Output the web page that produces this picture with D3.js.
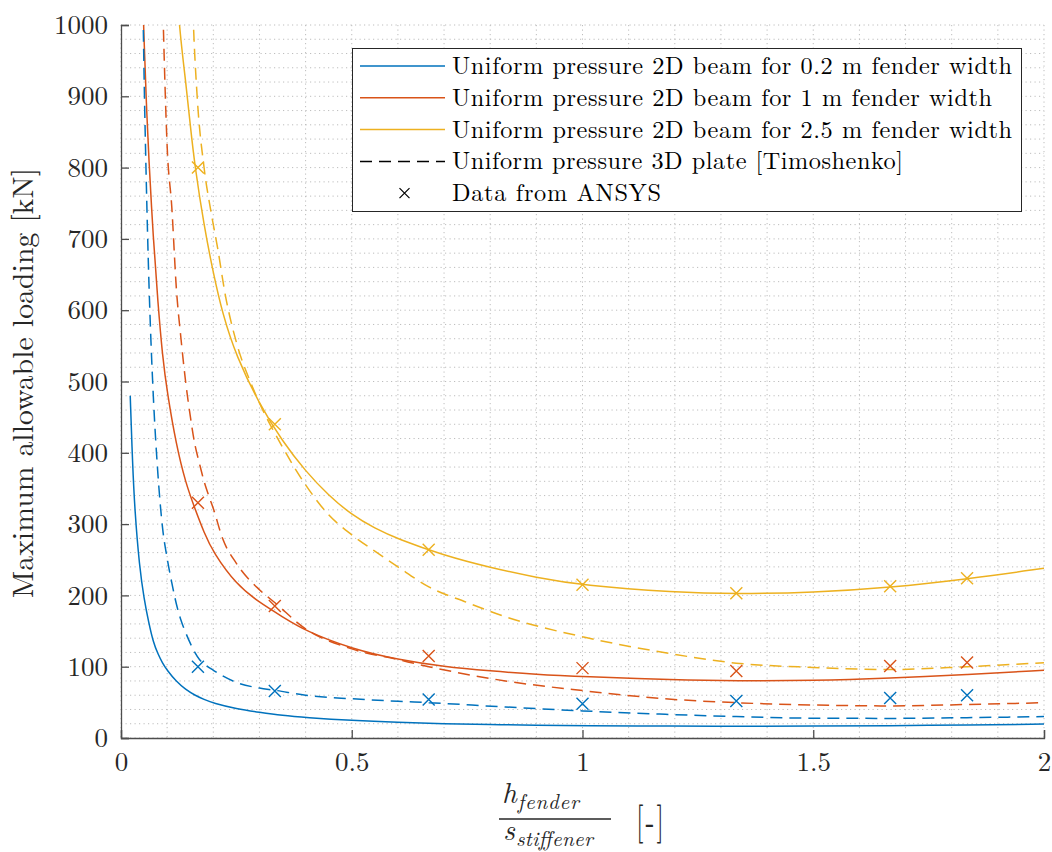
<!DOCTYPE html>
<html>
<head>
<meta charset="utf-8">
<script src="https://cdn.jsdelivr.net/npm/d3@7"></script>
<style>
body{margin:0;background:#fff;}
svg{display:block;}
</style>
</head>
<body>
<svg id="chart"></svg>
<script>
//2D beam (solid) curves, one x list each
var xBeam02=[0.02,0.025,0.03,0.04,0.05,0.06,0.07,0.08,0.09,0.1,0.12,0.14,0.16,0.18,0.2,0.25,0.3,0.35,0.4,0.5,0.6,0.7,0.8,0.9,1.0,1.2,1.333,1.5,1.667,1.833,2.0];
var yBeam02=[480,385,318,240,195,162,134,118,105,95,79,68,60,54,49,41,36,31.5,28.8,24.5,21.8,20,18.8,18,17.3,16.6,16.4,16.6,17.2,18.2,19.5];

var xBeam1=[0.045,0.05,0.055,0.06,0.07,0.08,0.09,0.1,0.12,0.14,0.16,0.18,0.2,0.25,0.3,0.35,0.4,0.5,0.6,0.7,0.8,0.9,1.0,1.2,1.333,1.5,1.667,1.833,2.0];
var yBeam1=[1090,975,890,815,700,610,535,485,410,358,322,288,260,215,190,170,150,125,110,100,94,89,86,81.5,80,80.5,84,89,95];

var xBeam25=[0.12,0.13,0.14,0.15,0.16,0.18,0.2,0.22,0.25,0.3,0.35,0.4,0.45,0.5,0.55,0.6,0.7,0.8,0.9,1.0,1.2,1.333,1.5,1.667,1.833,2.0];
var yBeam25=[1050,975,922,860,802,718,652,595,535,468,416,374,340,313,294,279,256,239,225,214,204,202,204,211,223,238];

//3D plate [Timoshenko] (dashed) curves
var xPlate02=[0.046,0.048,0.05,0.055,0.06,0.065,0.07,0.08,0.09,0.1,0.11,0.12,0.13,0.14,0.15,0.16,0.17,0.18,0.2,0.25,0.3,0.333,0.4,0.5,0.6,0.667,0.833,1.0,1.167,1.333,1.5,1.667,1.833,2.0];
var yPlate02=[1100,1010,930,775,650,555,480,370,295,252,218,188,165,148,133,120,110,104,95,78,70,67,60,55,51.5,49.5,43.5,38,33.5,30,27.8,27.5,28.5,30];

var xPlate1=[0.088,0.0917,0.1,0.11,0.12,0.13,0.14,0.15,0.16,0.17,0.18,0.19,0.2,0.22,0.25,0.3,0.333,0.4,0.5,0.6,0.667,0.833,1.0,1.167,1.333,1.5,1.667,1.833,2.0];
var yPlate1=[1100,1000,830,745,630,560,500,452,412,385,360,340,322,280,245,208,190,153,125,110,100,80,66.5,55.6,49.5,46.3,45,47,49.5];

var xPlate25=[0.152,0.157,0.165,0.18,0.195,0.21,0.225,0.25,0.28,0.3,0.35,0.4,0.45,0.5,0.55,0.6,0.667,0.75,0.833,1.0,1.167,1.333,1.5,1.667,1.833,2.0];
var yPlate25=[1100,1000,900,800,738,685,625,555,500,470,408,355,313,285,262,240,212,190,170,142,121,105,99,96,100,105.6];

//ANSYS points
var xAnsys=[0.1667,0.3333,0.6667,1.0,1.3333,1.6667,1.8333];
var yAnsys02=[100,66,54,48,52,56,60];
var yAnsys1=[330,185,115,98,94,101,106];
var yAnsys25=[800,440,264,215,203,213,224];

var xTicks=[0,0.5,1,1.5,2];
var yTicks=[0,100,200,300,400,500,600,700,800,900,1000];

var legendLabels=[
	"Uniform pressure 2D beam for 0.2 m fender width",
	"Uniform pressure 2D beam for 1 m fender width",
	"Uniform pressure 2D beam for 2.5 m fender width",
	"Uniform pressure 3D plate [Timoshenko]",
	"Data from ANSYS"
];
var legendWidths=[560,540,560,451,209];

///some constants
var colBlue="#0072BD", colOrange="#D95319", colYellow="#EDB120";
var axisColor="#4d4d4d", textColor="#262626";
var serif="'Latin Modern Roman','Liberation Serif',serif";
var margin={top:25,right:8,bottom:114,left:121};
var W=1052, H=852;
var width=W-margin.left-margin.right;
var height=H-margin.top-margin.bottom;

var svg=d3.select("#chart").attr("width",W).attr("height",H);

var x=d3.scaleLinear().domain([0,2]).range([0,width]);
var y=d3.scaleLinear().domain([0,1000]).range([height,0]);

var plot=svg.append("g").attr("transform","translate("+margin.left+","+margin.top+")");

plot.append("clipPath").attr("id","clip")
	.append("rect").attr("x",0).attr("y",0).attr("width",width).attr("height",height);

//dotted grid, major + minor
plot.append("g").selectAll("line")
	.data(d3.range(0,2.0001,0.1))
	.enter().append("line")
	.attr("x1",function(d){return x(d);}).attr("x2",function(d){return x(d);})
	.attr("y1",0).attr("y2",height)
	.attr("stroke","#bdbdbd").attr("stroke-width",1)
	.attr("stroke-dasharray","1.2,3.3");
plot.append("g").selectAll("line")
	.data(d3.range(0,1000.1,20))
	.enter().append("line")
	.attr("y1",function(d){return y(d);}).attr("y2",function(d){return y(d);})
	.attr("x1",0).attr("x2",width)
	.attr("stroke","#bdbdbd").attr("stroke-width",1)
	.attr("stroke-dasharray","1.2,3.3");

//axes, ticks pointing inward
var xAxis=d3.axisBottom(x).tickValues(xTicks).tickSize(-8).tickPadding(14)
	.tickFormat(function(d){return d;});
var yAxis=d3.axisLeft(y).tickValues(yTicks).tickSize(-8).tickPadding(13)
	.tickFormat(function(d){return d;});

var gx=plot.append("g").attr("transform","translate(0,"+height+")").call(xAxis);
var gy=plot.append("g").call(yAxis);
[gx,gy].forEach(function(g){
	g.attr("font-family",null).attr("font-size",null);
	g.select(".domain").attr("stroke",axisColor).attr("stroke-width",1.3);
	g.selectAll(".tick line").attr("stroke",axisColor).attr("stroke-width",1.3);
	g.selectAll(".tick text").attr("fill",textColor)
		.style("font-family",serif).style("font-size","27px");
});
gx.selectAll(".tick text").attr("dy","0.71em");
gy.selectAll(".tick text").attr("dy","0.32em");

//curves: smooth beam solutions, plate values joined as read
var smooth=d3.line()
	.x(function(d){return x(d[0]);})
	.y(function(d){return y(d[1]);})
	.curve(d3.curveBasis);
var mono=d3.line()
	.x(function(d){return x(d[0]);})
	.y(function(d){return y(d[1]);})
	.curve(d3.curveMonotoneX);
var curves=[
	{xs:xBeam02,ys:yBeam02,color:colBlue,dash:null,gen:smooth},
	{xs:xBeam1,ys:yBeam1,color:colOrange,dash:null,gen:smooth},
	{xs:xBeam25,ys:yBeam25,color:colYellow,dash:null,gen:smooth},
	{xs:xPlate02,ys:yPlate02,color:colBlue,dash:"12,7",gen:mono},
	{xs:xPlate1,ys:yPlate1,color:colOrange,dash:"12,7",gen:mono},
	{xs:xPlate25,ys:yPlate25,color:colYellow,dash:"12,7",gen:mono}
];

var gLines=plot.append("g").attr("clip-path","url(#clip)");
curves.forEach(function(c){
	var pts=c.xs.map(function(v,i){return [v,c.ys[i]];});
	gLines.append("path")
		.datum(pts)
		.attr("d",c.gen)
		.attr("fill","none")
		.attr("stroke",c.color)
		.attr("stroke-width",1.5)
		.attr("stroke-dasharray",c.dash);
});

//ANSYS crosses
var markerSets=[
	{ys:yAnsys02,color:colBlue},
	{ys:yAnsys1,color:colOrange},
	{ys:yAnsys25,color:colYellow}
];
var s=6;
function cross(d){
	var cx=x(d[0]), cy=y(d[1]);
	return "M"+(cx-s)+","+(cy-s)+"L"+(cx+s)+","+(cy+s)+"M"+(cx-s)+","+(cy+s)+"L"+(cx+s)+","+(cy-s);
}
markerSets.forEach(function(m){
	gLines.append("g").selectAll("path")
		.data(xAnsys.map(function(v,i){return [v,m.ys[i]];}))
		.enter().append("path")
		.attr("d",cross)
		.attr("stroke",m.color)
		.attr("stroke-width",1.4)
		.attr("fill","none");
});

//legend
var leg=svg.append("g");
leg.append("rect")
	.attr("x",352.5).attr("y",48.5).attr("width",669).attr("height",163)
	.attr("fill","#fff").attr("stroke",textColor).attr("stroke-width",1);
var legRowY=function(i){return 66+i*31.8;};
var legSample=[
	{color:colBlue,dash:null},
	{color:colOrange,dash:null},
	{color:colYellow,dash:null},
	{color:"#000",dash:"12,7"}
];
legSample.forEach(function(l,i){
	leg.append("line")
		.attr("x1",360).attr("x2",445)
		.attr("y1",legRowY(i)).attr("y2",legRowY(i))
		.attr("stroke",l.color).attr("stroke-width",1.5)
		.attr("stroke-dasharray",l.dash);
});
var lx=404.5, ly=legRowY(4), ls=5;
leg.append("path")
	.attr("d","M"+(lx-ls)+","+(ly-ls)+"L"+(lx+ls)+","+(ly+ls)+"M"+(lx-ls)+","+(ly+ls)+"L"+(lx+ls)+","+(ly-ls))
	.attr("stroke","#000").attr("stroke-width",1.2).attr("fill","none");
legendLabels.forEach(function(t,i){
	leg.append("text")
		.attr("x",452).attr("y",legRowY(i)).attr("dy","0.33em")
		.attr("textLength",legendWidths[i]).attr("lengthAdjust","spacing")
		.style("font-family",serif).style("font-size","24.3px")
		.attr("fill","#000")
		.text(t);
});

//y label
svg.append("text")
	.attr("transform","translate(33,383) rotate(-90)")
	.attr("text-anchor","middle")
	.attr("textLength",430).attr("lengthAdjust","spacing")
	.style("font-family",serif).style("font-size","29.5px")
	.attr("fill",textColor)
	.text("Maximum allowable loading [kN]");

//x label: fraction h_fender / s_stiffener [-]
var xl=svg.append("g").attr("fill",textColor).style("font-family",serif).style("font-style","italic");
var hT=xl.append("text").attr("x",502).attr("y",803).style("font-size","29px").text("h");
xl.append("text").attr("x",503+hT.node().getComputedTextLength()).attr("y",809).style("font-size","21px")
	.attr("textLength",61).attr("lengthAdjust","spacing").text("fender");
xl.append("line").attr("x1",499).attr("x2",611).attr("y1",819).attr("y2",819)
	.attr("stroke",textColor).attr("stroke-width",1.3);
var sT=xl.append("text").attr("x",503).attr("y",840).style("font-size","29px").text("s");
xl.append("text").attr("x",504+sT.node().getComputedTextLength()).attr("y",846).style("font-size","21px")
	.attr("textLength",77).attr("lengthAdjust","spacing").text("stiffener");
svg.append("text")
	.attr("transform","translate(636,834) scale(1,1.45)")
	.attr("fill",textColor)
	.style("font-family",serif).style("font-size","27px")
	.attr("textLength",28).attr("lengthAdjust","spacing")
	.text("[-]");
</script>
</body>
</html>
